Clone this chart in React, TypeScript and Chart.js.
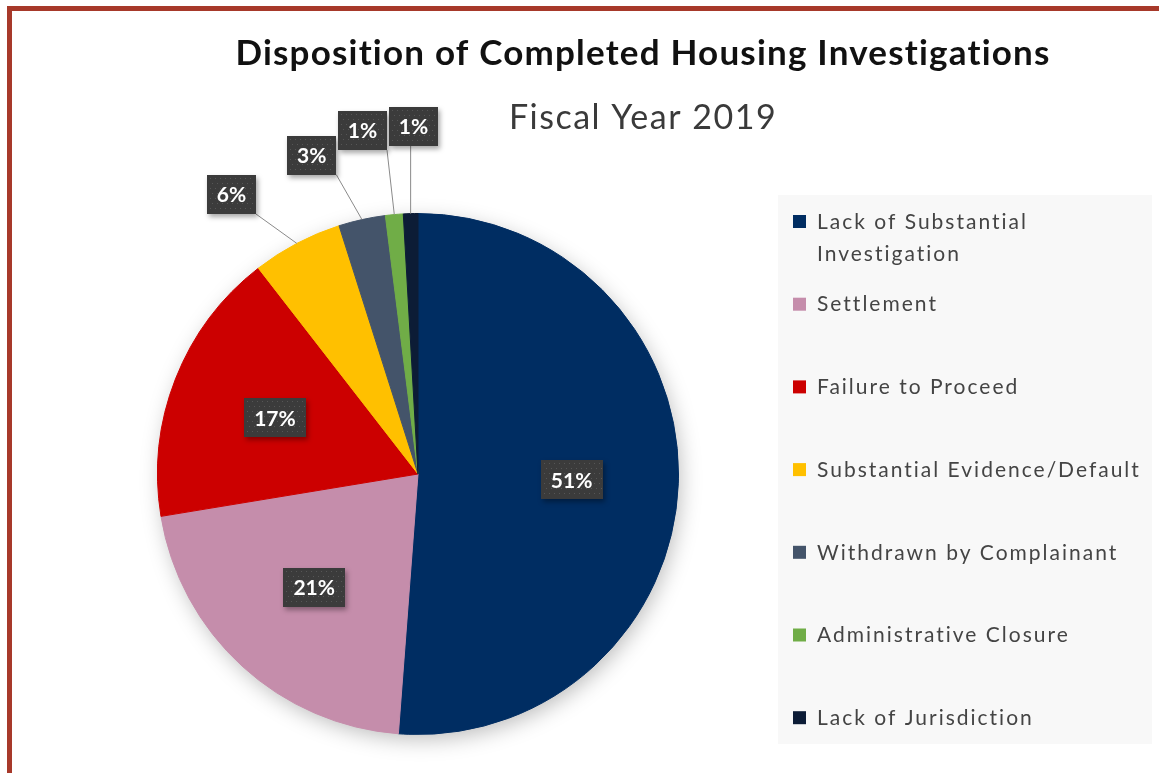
import React, { useEffect, useRef } from 'react';
import { Chart, registerables } from 'chart.js';

Chart.register(...registerables);

// ---- data ----
const categories = [
  'Lack of Substantial Investigation',
  'Settlement',
  'Failure to Proceed',
  'Substantial Evidence/Default',
  'Withdrawn by Complainant',
  'Administrative Closure',
  'Lack of Jurisdiction',
];
const legendLines = [
  ['Lack of Substantial', 'Investigation'],
  ['Settlement'],
  ['Failure to Proceed'],
  ['Substantial Evidence/Default'],
  ['Withdrawn by Complainant'],
  ['Administrative Closure'],
  ['Lack of Jurisdiction'],
];
const shares = [51.2, 21.2, 17.1, 5.6, 2.9, 1.1, 0.9];
const sliceColors = ['#002D62', '#C58DAB', '#CC0000', '#FFC000', '#44546A', '#70AD47', '#0C1C36'];
const titleText = 'Disposition of Completed Housing Investigations';
const subtitleText = 'Fiscal Year 2019';

// ---- layout / style ----
const W = 1159;
const H = 773;
const TITLE_X = 643;
const LEGEND_BOX = { left: 778, top: 195, right: 1152, bottom: 744 };
const LEGEND_MARK_X = 793;
const LEGEND_TEXT_X = 817;
const LEGEND_FIRST_Y = 221;
const LEGEND_STEP = 82.7;
const LEGEND_LINE_H = 32;
const LABEL_FONT = 'bold 21px Lato';
const LABEL_H = 39;

function drawLabelBox(ctx: CanvasRenderingContext2D, cx: number, cy: number, text: string) {
  ctx.save();
  ctx.font = LABEL_FONT;
  const tw = ctx.measureText(text).width;
  const bw = Math.round(tw + 20);
  const bh = LABEL_H;
  const bx = Math.round(cx - bw / 2);
  const by = Math.round(cy - bh / 2);
  ctx.shadowColor = 'rgba(0,0,0,0.35)';
  ctx.shadowBlur = 5;
  ctx.shadowOffsetX = 2;
  ctx.shadowOffsetY = 3;
  ctx.fillStyle = '#3B3B3B';
  ctx.fillRect(bx, by, bw, bh);
  ctx.shadowColor = 'transparent';
  ctx.fillStyle = '#565656';
  for (let yy = by + 3; yy < by + bh - 1; yy += 5) {
    for (let xx = bx + 3 + ((yy - by) % 10 === 3 ? 0 : 2); xx < bx + bw - 1; xx += 5) {
      ctx.fillRect(xx, yy, 1, 1);
    }
  }
  ctx.fillStyle = '#FFFFFF';
  ctx.textAlign = 'center';
  ctx.textBaseline = 'middle';
  ctx.fillText(text, cx, cy + 1);
  ctx.restore();
  return { left: bx, right: bx + bw, top: by, bottom: by + bh, w: bw };
}

const decorPlugin = {
  id: 'decor',
  beforeDatasetsDraw(chart: any) {
    const ctx: CanvasRenderingContext2D = chart.ctx;
    const arc = chart.getDatasetMeta(0).data[0];
    if (!arc) return;
    const { x, y, outerRadius } = arc.getProps(['x', 'y', 'outerRadius'], true);
    ctx.save();
    ctx.shadowColor = 'rgba(0,0,0,0.28)';
    ctx.shadowBlur = 22;
    ctx.shadowOffsetX = 3;
    ctx.shadowOffsetY = 6;
    ctx.fillStyle = '#ffffff';
    ctx.beginPath();
    ctx.arc(x, y, outerRadius - 2, 0, Math.PI * 2);
    ctx.fill();
    ctx.restore();
  },
  afterDraw(chart: any) {
    const ctx: CanvasRenderingContext2D = chart.ctx;

    // title + subtitle
    ctx.save();
    ctx.textAlign = 'center';
    ctx.textBaseline = 'alphabetic';
    ctx.fillStyle = '#111111';
    ctx.font = 'bold 35px Lato';
    (ctx as any).letterSpacing = '1.2px';
    ctx.fillText(titleText, TITLE_X, 65);
    ctx.fillStyle = '#3A3A3A';
    ctx.font = '34px Lato';
    (ctx as any).letterSpacing = '1.5px';
    ctx.fillText(subtitleText, TITLE_X, 129);
    ctx.restore();

    // legend
    ctx.save();
    ctx.fillStyle = '#F8F8F8';
    ctx.fillRect(LEGEND_BOX.left, LEGEND_BOX.top, LEGEND_BOX.right - LEGEND_BOX.left, LEGEND_BOX.bottom - LEGEND_BOX.top);
    ctx.font = '21px Lato';
    (ctx as any).letterSpacing = '2px';
    ctx.textBaseline = 'middle';
    ctx.textAlign = 'left';
    const labels: string[] = chart.data.labels;
    labels.forEach((_, i) => {
      const yy = LEGEND_FIRST_Y + i * LEGEND_STEP;
      ctx.fillStyle = sliceColors[i];
      ctx.fillRect(LEGEND_MARK_X, yy - 6, 13, 13);
      ctx.fillStyle = '#444444';
      legendLines[i].forEach((ln, j) => ctx.fillText(ln, LEGEND_TEXT_X, yy + 1 + j * LEGEND_LINE_H));
    });
    ctx.restore();

    // data labels
    const meta = chart.getDatasetMeta(0);
    const values: number[] = chart.data.datasets[0].data;
    const total = values.reduce((a, b) => a + b, 0);
    const outside: number[] = [];
    meta.data.forEach((el: any, i: number) => {
      const p = el.getProps(['x', 'y', 'startAngle', 'endAngle', 'outerRadius'], true);
      const pct = Math.round((values[i] / total) * 100);
      if (pct >= 8) {
        const mid = (p.startAngle + p.endAngle) / 2;
        const rr = p.outerRadius * 0.59;
        drawLabelBox(ctx, p.x + Math.cos(mid) * rr, p.y + Math.sin(mid) * rr, pct + '%');
      } else {
        outside.push(i);
      }
    });
    let prevRight: number | null = null;
    const shift = (6 * Math.PI) / 180;
    for (let k = 0; k < outside.length; k++) {
      const i = outside[k];
      const el = meta.data[i];
      const p = el.getProps(['x', 'y', 'startAngle', 'endAngle', 'outerRadius'], true);
      const pct = Math.round((values[i] / total) * 100);
      const mid = (p.startAngle + p.endAngle) / 2;
      const R = p.outerRadius * 1.29;
      ctx.save();
      ctx.font = LABEL_FONT;
      const bw = Math.round(ctx.measureText(pct + '%').width + 20);
      ctx.restore();
      let px = p.x + Math.cos(mid - shift) * R;
      let py = p.y + Math.sin(mid - shift) * R;
      if (prevRight !== null && px - bw / 2 < prevRight + 2) {
        px = prevRight + 2 + bw / 2;
        const R2 = R * 1.035;
        const dx = px - p.x;
        py = p.y - Math.sqrt(Math.max(R2 * R2 - dx * dx, 0));
      }
      const ax = p.x + Math.cos(mid) * p.outerRadius;
      const ay = p.y + Math.sin(mid) * p.outerRadius;
      const cxp = Math.min(Math.max(ax, px - bw / 2), px + bw / 2);
      const cyp = Math.min(Math.max(ay, py - LABEL_H / 2), py + LABEL_H / 2);
      ctx.save();
      ctx.strokeStyle = '#8A8A8A';
      ctx.lineWidth = 1;
      ctx.beginPath();
      ctx.moveTo(ax, ay);
      ctx.lineTo(cxp, cyp);
      ctx.stroke();
      ctx.restore();
      const box = drawLabelBox(ctx, px, py, pct + '%');
      prevRight = box.right;
    }
  },
};

export default function App() {
  const canvasRef = useRef<HTMLCanvasElement | null>(null);

  useEffect(() => {
    const canvas = canvasRef.current;
    if (!canvas) return;
    const chart = new Chart(canvas, {
      type: 'pie',
      data: {
        labels: categories,
        datasets: [
          {
            data: shares,
            backgroundColor: sliceColors,
            borderColor: sliceColors,
            borderWidth: 1,
          },
        ],
      },
      options: {
        responsive: false,
        animation: false,
        rotation: 0,
        layout: { padding: { left: 157, right: W - 679, top: 213, bottom: H - 735 } },
        plugins: {
          legend: { display: false },
          title: { display: false },
          tooltip: { enabled: false },
        },
      },
      plugins: [decorPlugin],
    });
    return () => chart.destroy();
  }, []);

  return (
    <div style={{ position: 'fixed', left: 0, top: 0, width: W, height: H, background: '#ffffff', overflow: 'hidden' }}>
      <canvas ref={canvasRef} width={W} height={H} style={{ position: 'absolute', left: 0, top: 0, width: W, height: H }} />
      <div
        style={{
          position: 'absolute',
          left: 7,
          top: 6,
          width: W + 20,
          height: H + 20,
          borderTop: '5px solid #A7392A',
          borderLeft: '5px solid #A7392A',
          pointerEvents: 'none',
        }}
      />
    </div>
  );
}
